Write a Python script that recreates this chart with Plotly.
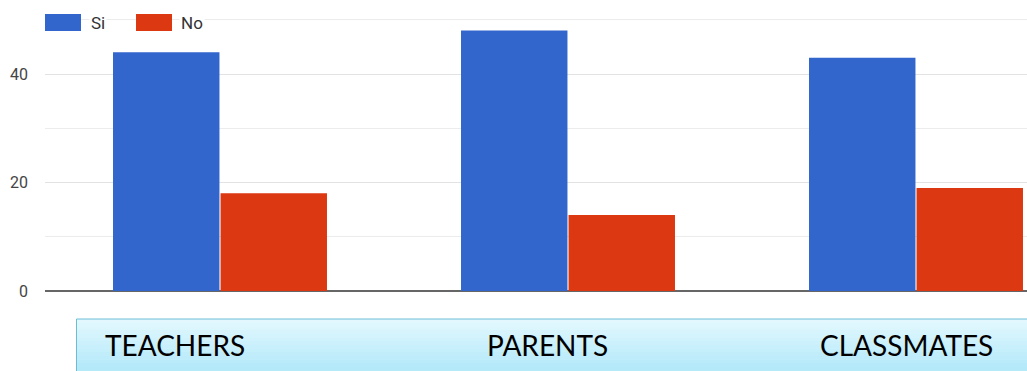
import plotly.graph_objects as go

categories = ["TEACHERS", "PARENTS", "CLASSMATES"]
series_names = ["Si", "No"]
si_values = [44, 48, 43]
no_values = [18, 14, 19]
y_tick_values = [0, 20, 40]
y_tick_labels = ["0", "20", "40"]

colors = ["#3366cc", "#dc3912"]
W, H = 1027, 371
ML, MT, MB = 45, 0, 80
PW, PH = W - ML, H - MT - MB

def px_x(p):
    return (p - ML) / PW

def px_y(p):
    return (MT + PH - p) / PH

fig = go.Figure()
for name, vals, col in zip(series_names, [si_values, no_values], colors):
    fig.add_trace(go.Bar(x=categories, y=vals, name=name, marker=dict(color=col, line=dict(width=0))))

shapes = []
# gradient box behind category labels
top_c = (0xe2, 0xf8, 0xfe)
bot_c = (0xa4, 0xe4, 0xf8)
y_top, y_bot = 319, 385
n = 18
for i in range(n):
    t = i / (n - 1)
    c = tuple(int(round(top_c[k] + (bot_c[k] - top_c[k]) * t)) for k in range(3))
    ya = y_top + (y_bot - y_top) * i / n
    yb = y_top + (y_bot - y_top) * (i + 1) / n + 0.5
    shapes.append(dict(type="rect", xref="paper", yref="paper", x0=px_x(76), x1=px_x(1040),
                       y0=px_y(yb), y1=px_y(ya), fillcolor="rgb(%d,%d,%d)" % c,
                       line=dict(width=0), layer="below"))
shapes.append(dict(type="rect", xref="paper", yref="paper", x0=px_x(76.5), x1=px_x(1040),
                   y0=px_y(y_bot), y1=px_y(y_top), fillcolor="rgba(0,0,0,0)",
                   line=dict(width=1, color="#6cbcd6")))

# custom legend
legend_items = [(45, 81, 89), (136, 172, 179)]
annotations = []
for (x0, x1, tx), name, col in zip(legend_items, series_names, colors):
    shapes.append(dict(type="rect", xref="paper", yref="paper", x0=px_x(x0), x1=px_x(x1),
                       y0=px_y(31), y1=px_y(14), fillcolor=col, line=dict(width=0)))
    annotations.append(dict(xref="paper", yref="paper", x=px_x(tx), y=px_y(23), text=name,
                            showarrow=False, xanchor="left", yanchor="middle",
                            font=dict(family="Roboto, Arial", size=17, color="#333333"),
                            bgcolor="white"))

label_shifts = [-45, -21, -10]
for cat, sh in zip(categories, label_shifts):
    annotations.append(dict(xref="x", yref="paper", x=cat, y=px_y(345), text=cat,
                            showarrow=False, xanchor="center", yanchor="middle", xshift=sh,
                            font=dict(family="Lato, Open Sans", size=28, color="#000000")))

cat_px = 348.0
x_left = -0.5 - 1.0 / cat_px
x_right = (W - 220) / cat_px

fig.update_layout(
    width=W, height=H,
    margin=dict(l=ML, r=0, t=MT, b=MB),
    paper_bgcolor="white", plot_bgcolor="white",
    showlegend=False,
    barmode="group", bargap=0.382, bargroupgap=0.01,
    shapes=shapes, annotations=annotations,
    xaxis=dict(range=[x_left, x_right], showticklabels=False, showgrid=False, zeroline=False,
               showline=False, fixedrange=True),
    yaxis=dict(range=[0, PH / 5.425], tickvals=y_tick_values, ticktext=y_tick_labels,
               showgrid=True, gridcolor="#e2e2e2", gridwidth=1,
               minor=dict(dtick=10, tick0=0, showgrid=True, gridcolor="#ececec", gridwidth=1),
               zeroline=True, zerolinecolor="#666666", zerolinewidth=1.5,
               ticks="", ticklabelstandoff=16,
               tickfont=dict(family="Roboto, Arial", size=16, color="#444444")),
)

fig.write_html("out.html")
